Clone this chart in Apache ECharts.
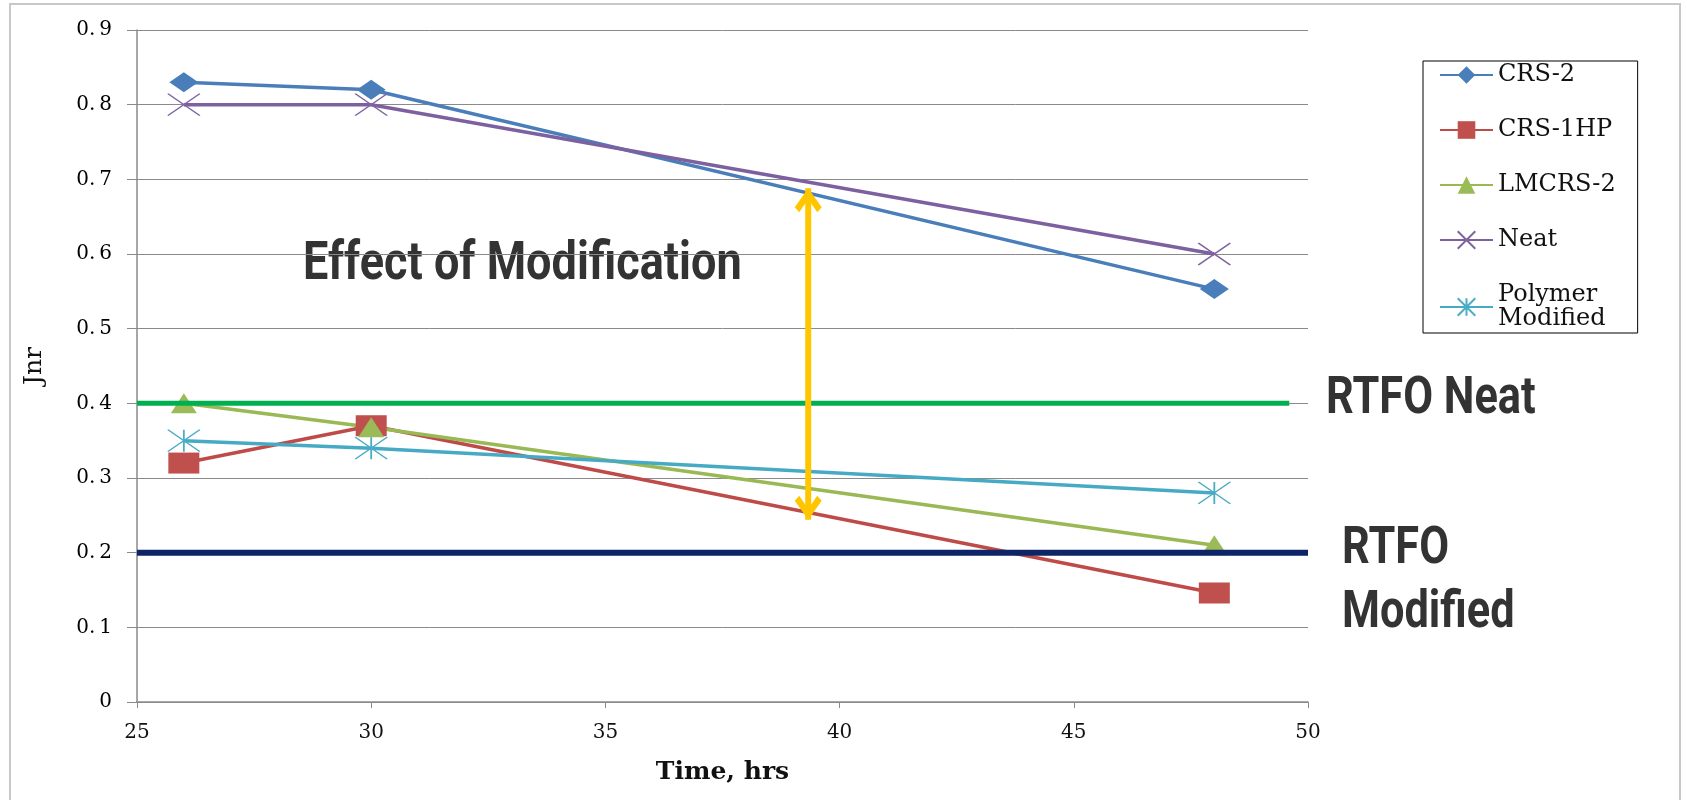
<!DOCTYPE html>
<html>
<head>
<meta charset="utf-8">
<script src="https://cdn.jsdelivr.net/npm/echarts@6/dist/echarts.min.js"></script>
<style>
  html, body { margin: 0; padding: 0; background: #fff; }
  #main { width: 1687px; height: 800px; }
</style>
</head>
<body>
<div id="main"></div>
<script>
// values
var times = [26, 30, 48];
var crs2 = [0.83, 0.82, 0.553];
var crs1hp = [0.32, 0.37, 0.146];
var lmcrs2 = [0.40, 0.368, 0.21];
var neat = [0.80, 0.80, 0.60];
var polymerModified = [0.35, 0.34, 0.28];

// reference levels and the arrow between them
var rtfoNeat = { level: 0.4, from: 25, to: 49.6 };
var rtfoModified = { level: 0.2, from: 25, to: 50 };
var arrowX = 39.33;
var arrowEnds = [0.688, 0.244];

var yTicks = [0, 0.1, 0.2, 0.3, 0.4, 0.5, 0.6, 0.7, 0.8, 0.9];

function pairs(ys) {
  return times.map(function (t, i) { return [t, ys[i]]; });
}

var chevron = 'path://M13.5 0L27 19L22.5 24L13.5 11L4.5 24L0 19Z';
var serif = '"DejaVu Serif", "Liberation Serif", serif';
var heavy = 'Roboto, "Noto Sans", sans-serif';

function dataSeries(name, ys, color, lineColor, symbol, size, hollow) {
  return {
    name: name,
    type: 'line',
    data: pairs(ys),
    symbol: symbol,
    symbolSize: size,
    z: 2,
    lineStyle: { color: lineColor, width: 3.5 },
    itemStyle: hollow
      ? { color: 'rgba(0,0,0,0)', borderColor: color, borderWidth: 1.5 }
      : { color: color, borderWidth: 0 }
  };
}

var myChart = echarts.init(document.getElementById('main'));
myChart.setOption({
  animation: false,
  backgroundColor: '#fff',
  grid: { left: 137, right: 379, top: 30, bottom: 98 },
  xAxis: {
    type: 'value',
    min: 25,
    max: 50,
    interval: 5,
    name: 'Time, hrs',
    nameLocation: 'middle',
    nameGap: 58,
    nameTextStyle: { fontFamily: serif, fontWeight: 'bold', fontSize: 25, color: '#111' },
    axisLine: { lineStyle: { color: '#8a8a8a', width: 1.5 } },
    axisTick: { show: true, length: 6, lineStyle: { color: '#8a8a8a' } },
    axisLabel: { fontFamily: serif, fontSize: 20, color: '#111', margin: 21 },
    splitLine: { show: false }
  },
  yAxis: {
    type: 'value',
    min: 0,
    max: 0.9,
    interval: 0.1,
    name: 'Jnr',
    nameLocation: 'middle',
    nameGap: 90,
    nameRotate: 90,
    nameTextStyle: { fontFamily: serif, fontSize: 25, color: '#111' },
    axisLine: { show: true, lineStyle: { color: '#8a8a8a', width: 1.5 } },
    axisTick: { show: true, length: 10, lineStyle: { color: '#8a8a8a' } },
    axisLabel: {
      fontFamily: serif,
      fontSize: 20,
      color: '#000',
      margin: 25,
      formatter: function (v) {
        var i = yTicks.indexOf(Math.round(v * 10) / 10);
        var s = yTicks[i] === 0 ? '0' : yTicks[i].toFixed(1);
        return s.replace('.', '.\u2009');
      }
    },
    splitLine: { show: true, lineStyle: { color: '#8a8a8a', width: 1 } }
  },
  legend: {
    orient: 'vertical',
    left: 1423,
    top: 61,
    data: ['CRS-2', 'CRS-1HP', 'LMCRS-2', 'Neat', 'Polymer Modified'],
    itemWidth: 53,
    itemHeight: 22,
    itemGap: 31,
    padding: [2, 22, 2, 16],
    borderColor: '#000',
    borderWidth: 1,
    formatter: function (name) {
      return name === 'Polymer Modified' ? 'Polymer\nModified' : name;
    },
    textStyle: { fontFamily: serif, fontSize: 24, color: '#111', lineHeight: 24 }
  },
  graphic: [
    {
      type: 'rect',
      shape: { x: 10, y: 4, width: 1670, height: 800 },
      style: { fill: 'none', stroke: '#c8c8c8', lineWidth: 2 },
      silent: true
    },
    {
      type: 'text', x: 303, y: 266, scaleX: 0.85,
      style: { text: 'Effect of Modification', font: 'bold 53px ' + heavy, fill: '#333', verticalAlign: 'middle' }
    },
    {
      type: 'text', x: 1326, y: 400, scaleX: 0.85,
      style: { text: 'RTFO Neat', font: 'bold 51px ' + heavy, fill: '#333', verticalAlign: 'middle' }
    },
    {
      type: 'text', x: 1342, y: 550, scaleX: 0.85,
      style: { text: 'RTFO', font: 'bold 51px ' + heavy, fill: '#333', verticalAlign: 'middle' }
    },
    {
      type: 'text', x: 1342, y: 614, scaleX: 0.85,
      style: { text: 'Modified', font: 'bold 51px ' + heavy, fill: '#333', verticalAlign: 'middle' }
    }
  ],
  series: [
    dataSeries('CRS-2', crs2, '#4a7ebb', '#4a7ebb', 'diamond', [29, 20]),
    dataSeries('CRS-1HP', crs1hp, '#c0504d', '#be4b48', 'rect', [31, 21]),
    dataSeries('LMCRS-2', lmcrs2, '#9bbb59', '#98b954', 'triangle', [26, 20]),
    dataSeries('Neat', neat, '#8064a2', '#7d60a0', 'path://M0 0L10 10M10 0L0 10', [32, 22], true),
    dataSeries('Polymer Modified', polymerModified, '#4bacc6', '#46aac5', 'path://M0 0L10 10M10 0L0 10M5 0L5 10', [32, 22], true),
    {
      name: 'RTFO Neat',
      type: 'line',
      data: [[rtfoNeat.from, rtfoNeat.level], [rtfoNeat.to, rtfoNeat.level]],
      symbol: 'none',
      z: 3,
      lineStyle: { color: '#00b050', width: 5 }
    },
    {
      name: 'RTFO Modified',
      type: 'line',
      data: [[rtfoModified.from, rtfoModified.level], [rtfoModified.to, rtfoModified.level]],
      symbol: 'none',
      z: 3,
      lineStyle: { color: '#0d2466', width: 6 }
    },
    {
      name: 'Effect of Modification',
      type: 'line',
      z: 4,
      lineStyle: { color: '#ffc600', width: 6 },
      itemStyle: { color: '#ffc600' },
      symbolSize: [27, 24],
      data: [
        { value: [arrowX, arrowEnds[0]], symbol: chevron, symbolOffset: [0, 12] },
        { value: [arrowX, arrowEnds[1]], symbol: chevron, symbolRotate: 180, symbolOffset: [0, -12] }
      ]
    }
  ]
});
</script>
</body>
</html>
